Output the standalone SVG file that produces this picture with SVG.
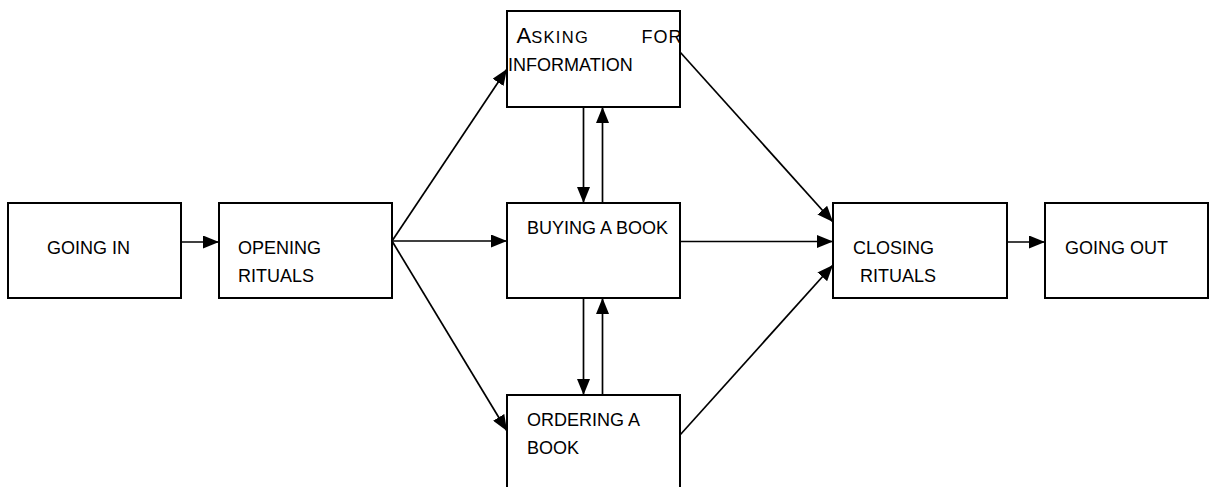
<svg xmlns="http://www.w3.org/2000/svg" width="1210" height="487" viewBox="0 0 1210 487">
<style>
.box{fill:#fff;stroke:#000;stroke-width:2}
.t{font-family:"Liberation Sans",Arial,sans-serif;font-size:18px;fill:#000}
.c{stroke:#000;stroke-width:1.7;fill:none;marker-end:url(#ah)}
</style>
<defs>
<marker id="ah" markerUnits="userSpaceOnUse" markerWidth="16" markerHeight="13" refX="16" refY="6.5" orient="auto" viewBox="0 0 16 13">
<path d="M0,0 L16,6.5 L0,13 z" fill="#000"/>
</marker>
</defs>
<rect width="1210" height="487" fill="#fff"/>
<g id="connectors">
<line class="c" x1="181" y1="242" x2="219" y2="242"/>
<line class="c" x1="392" y1="241" x2="507" y2="69"/>
<line class="c" x1="392" y1="241" x2="507" y2="241"/>
<line class="c" x1="392" y1="241" x2="507" y2="431"/>
<line class="c" x1="583.5" y1="107" x2="583.5" y2="203"/>
<line class="c" x1="602.5" y1="203" x2="602.5" y2="107"/>
<line class="c" x1="583.5" y1="298" x2="583.5" y2="395"/>
<line class="c" x1="602.5" y1="395" x2="602.5" y2="298"/>
<line class="c" x1="680" y1="52" x2="833" y2="222"/>
<line class="c" x1="680" y1="241.5" x2="833" y2="241.5"/>
<line class="c" x1="680" y1="435" x2="833" y2="265"/>
<line class="c" x1="1007" y1="242" x2="1045" y2="242"/>
</g>
<g id="going-in">
<rect class="box" x="8" y="203" width="173" height="95"/>
<text class="t" x="47" y="254">GOING IN</text>
</g>
<g id="opening-rituals">
<rect class="box" x="219" y="203" width="173" height="95"/>
<text class="t" x="238" y="254">OPENING</text>
<text class="t" x="238" y="281.5">RITUALS</text>
</g>
<g id="asking">
<rect class="box" x="507" y="11" width="173" height="96"/>
<text class="t" x="516.5" y="42.5"><tspan font-size="22">A</tspan><tspan font-size="16.5" letter-spacing="1.3">SKING</tspan></text>
<text class="t" x="641.5" y="42.5" font-size="16.5" letter-spacing="1">FOR</text>
<text class="t" x="508" y="70.5">INFORMATION</text>
</g>
<g id="buying">
<rect class="box" x="507" y="203" width="173" height="95"/>
<text class="t" x="527" y="234">BUYING A BOOK</text>
</g>
<g id="ordering">
<rect class="box" x="507" y="395" width="173" height="110"/>
<text class="t" x="527" y="426">ORDERING A</text>
<text class="t" x="527" y="454">BOOK</text>
</g>
<g id="closing-rituals">
<rect class="box" x="833" y="203" width="174" height="95"/>
<text class="t" x="853" y="254">CLOSING</text>
<text class="t" x="860" y="281.5">RITUALS</text>
</g>
<g id="going-out">
<rect class="box" x="1045" y="203" width="163" height="95"/>
<text class="t" x="1065" y="254">GOING OUT</text>
</g>
</svg>
